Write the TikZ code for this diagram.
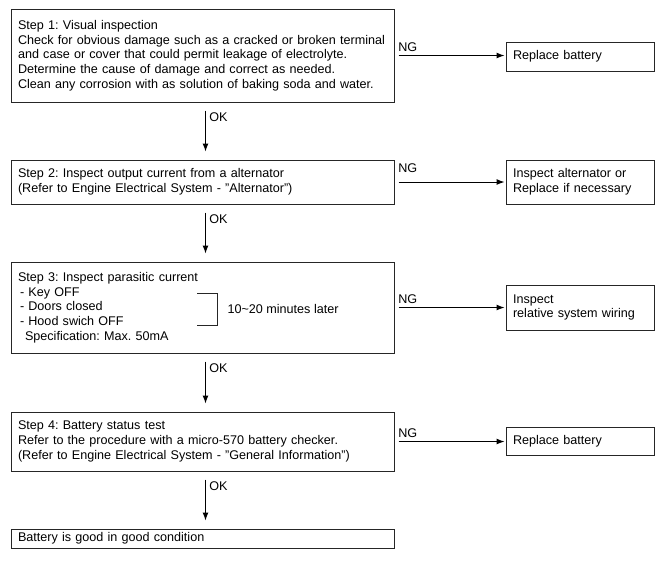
\documentclass[tikz,border=0pt]{standalone}
\usepackage{fontspec}
\setmainfont{Liberation Sans}
\usetikzlibrary{arrows.meta}
\frenchspacing
\hyphenpenalty=10000
\tikzset{
  stepbox/.style={draw=black!85,line width=1pt,text width=369pt,inner xsep=7pt,inner ysep=2pt,align=left},
  fixbox/.style={draw=black!85,line width=1pt,text width=134pt,inner xsep=7pt,inner ysep=2pt,align=left},
  okarrow/.style={line width=1pt,-{Latex[length=8pt,width=6pt]},shorten <=8pt,shorten >=8pt},
  ngarrow/.style={line width=1pt,-{Latex[length=8pt,width=6pt]},shorten <=4pt,shorten >=1pt},
}
\begin{document}
\begin{tikzpicture}[x=1pt,y=-1pt,font=\fontsize{12.6}{14.7}\selectfont]
\useasboundingbox (0,0) rectangle (664,568);
% steps
\node[stepbox,minimum height=93pt] (s1) at (202.5,55.5) {Step 1: Visual inspection\\
  Check for obvious damage such as a cracked or broken terminal\\
  and case or cover that could permit leakage of electrolyte.\\
  Determine the cause of damage and correct as needed.\\
  Clean any corrosion with as solution of baking soda and water.};
\node[stepbox,minimum height=44pt] (s2) at (202.5,182) {Step 2: Inspect output current from a alternator\\
  (Refer to Engine Electrical System - "Alternator")};
\node[stepbox,minimum height=91pt] (s3) at (202.5,307.5) {Step 3: Inspect parasitic current\\
  \hspace*{2pt}- Key OFF\\
  \hspace*{2pt}- Doors closed\\
  \hspace*{2pt}- Hood swich OFF\\
  \hspace*{7pt}Specification: Max. 50mA};
\node[stepbox,minimum height=59pt] (s4) at (202.5,441.5) {Step 4: Battery status test\\
  Refer to the procedure with a micro-570 battery checker.\\
  (Refer to Engine Electrical System - "General Information")};
\node[stepbox,minimum height=19pt] (s5) at (202.5,538.5) {Battery is good in good condition};
% bracket in step 3
\draw[line width=1pt,black!85] (197,293) -- (217,293) -- (217,325) -- (197,325);
\node[right] (later) at (224,309) {10\textasciitilde 20 minutes later};
% repairs
\node[fixbox,minimum height=29pt] (r1) at (580,56.5) {Replace battery};
\node[fixbox,minimum height=44pt] (r2) at (580,182) {Inspect alternator or\\Replace if necessary};
\node[fixbox,minimum height=45pt] (r3) at (580,307.5) {Inspect\\relative system wiring};
\node[fixbox,minimum height=28pt] (r4) at (580,441) {Replace battery};
% OK
\draw[okarrow] ([xshift=3pt]s1.south) -- ([xshift=3pt]s2.north) node[pos=0.25,right] {OK};
\draw[okarrow] ([xshift=3pt]s2.south) -- ([xshift=3pt]s3.north) node[pos=0.25,right] {OK};
\draw[okarrow] ([xshift=3pt]s3.south) -- ([xshift=3pt]s4.north) node[pos=0.25,right] {OK};
\draw[okarrow] ([xshift=3pt]s4.south) -- ([xshift=3pt]s5.north) node[pos=0.25,right] {OK};
% NG
\draw[ngarrow] (s1.east) -- (s1.east -| r1.west) node[pos=0,above right] {NG};
\draw[ngarrow] (s2.east) -- (s2.east -| r2.west) node[pos=0,above right,yshift=6pt] {NG};
\draw[ngarrow] (s3.east) -- (s3.east -| r3.west) node[pos=0,above right] {NG};
\draw[ngarrow] (s4.east) -- (s4.east -| r4.west) node[pos=0,above right] {NG};
\end{tikzpicture}
\end{document}
